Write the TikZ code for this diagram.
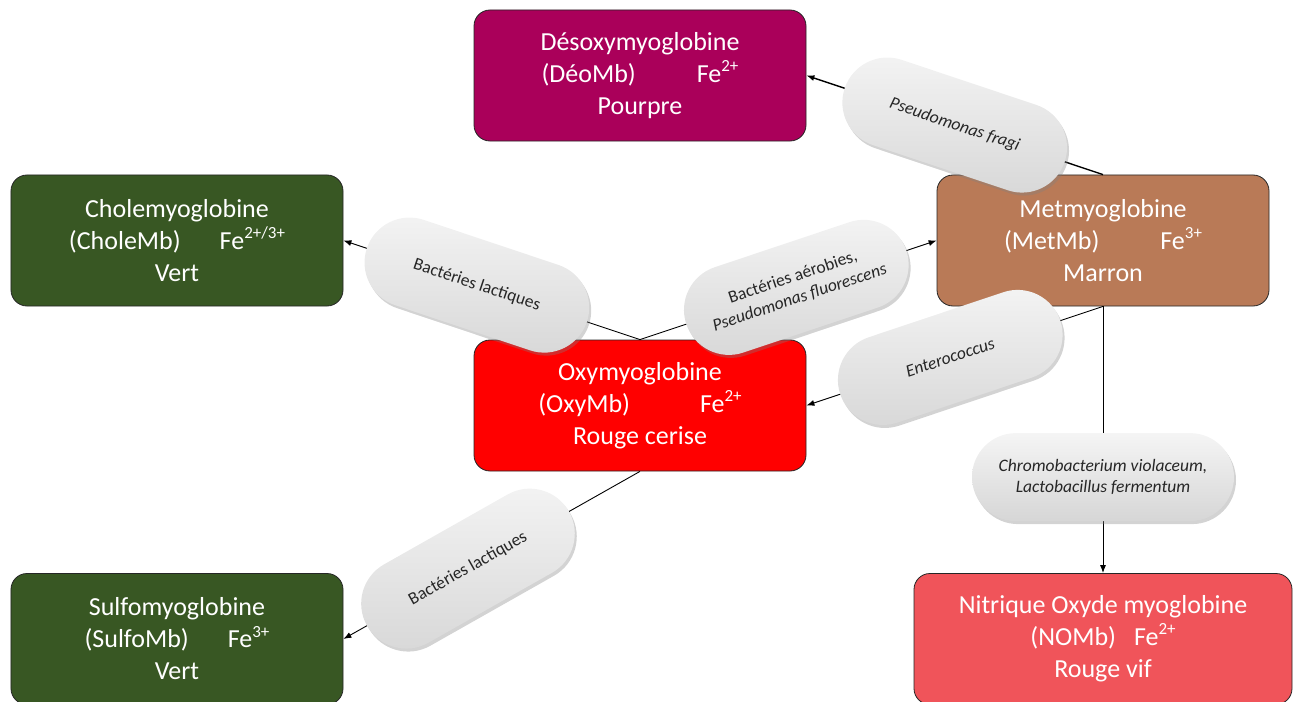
\documentclass[tikz,border=0pt]{standalone}
\usepackage{fontspec}
\setmainfont{Carlito}
\usetikzlibrary{shadows,arrows.meta}
\definecolor{desoc}{RGB}{170,0,90}
\definecolor{greenc}{RGB}{56,87,35}
\definecolor{metc}{RGB}{185,122,87}
\definecolor{oxyc}{RGB}{255,0,0}
\definecolor{noc}{RGB}{240,84,90}
\newcommand\supx[1]{\raisebox{0.42em}{\fontsize{17bp}{17bp}\selectfont #1}}
\begin{document}
\begin{tikzpicture}[x=1bp,y=-1bp,
  box/.style={draw=black!85, line width=0.8bp, rounded corners=16bp,
    minimum width=332bp, minimum height=131bp, text=white, align=center,
    font=\fontsize{26bp}{32bp}\selectfont, inner sep=0pt},
  pill/.style={rounded corners=45bp, minimum width=232bp, minimum height=90bp,
    top color=gray!8, bottom color=gray!32,
    drop shadow={opacity=0.35, shadow xshift=2bp, shadow yshift=-3bp},
    font=\fontsize{17.5bp}{21.5bp}\selectfont, align=center, text=black!85, inner sep=0pt},
  conn/.style={line width=0.9bp, draw=black},
  arr/.style={conn, -{Latex[length=8bp,width=6bp]}}
]
\useasboundingbox (0,0) rectangle (1295,702);
\clip (0,0) rectangle (1295,702);

\node[box, fill=desoc] (deso) at (640,75.5) {Désoxymyoglobine\\(DéoMb)\hspace{61bp}Fe\supx{2+}\\Pourpre};
\node[box, fill=greenc] (chole) at (177,240.5) {Cholemyoglobine\\(CholeMb)\hspace{39bp}Fe\supx{2+/3+}\\Vert};
\node[box, fill=metc] (met) at (1103,240.5) {Metmyoglobine\\(MetMb)\hspace{61bp}Fe\supx{3+}\\Marron};
\node[box, fill=oxyc] (oxy) at (640,405.5) {Oxymyoglobine\\(OxyMb)\hspace{70bp}Fe\supx{2+}\\Rouge cerise};
\node[box, fill=greenc] (sulfo) at (177,639) {Sulfomyoglobine\\(SulfoMb)\hspace{39bp}Fe\supx{3+}\\Vert};
\node[box, fill=noc, minimum width=378bp] (no) at (1103,639) {Nitrique Oxyde myoglobine\\(NOMb)\hspace{18bp}Fe\supx{2+}\\Rouge vif};

\draw[arr, line width=1.4bp] (met.north) -- node[pill, pos=0.5, rotate=-18.5] (p1) {\itshape Pseudomonas fragi} (deso.east);
\draw[arr] (oxy.north) -- node[pill, pos=0.55, rotate=-18.5] (p2) {Bactéries lactiques} (chole.east);
\draw[arr] (oxy.north) -- node[pill, pos=0.527, rotate=18.5] (p3) {Bactéries aérobies,\\\itshape Pseudomonas fluorescens} (met.west);
\draw[arr] (met.south) -- node[pill, pos=0.515, rotate=18.5] (p4) {\itshape Enterococcus} (oxy.east);
\draw[arr] (met.south) -- node[pill, pos=0.64, minimum width=262bp, minimum height=88bp, rounded corners=44bp] (p5) {\itshape Chromobacterium violaceum,\\\itshape Lactobacillus fermentum} (no.north);
\draw[arr] (oxy.south) -- node[pill, pos=0.58, rotate=29.5] (p6) {Bactéries lactiques} (sulfo.east);
\end{tikzpicture}
\end{document}
